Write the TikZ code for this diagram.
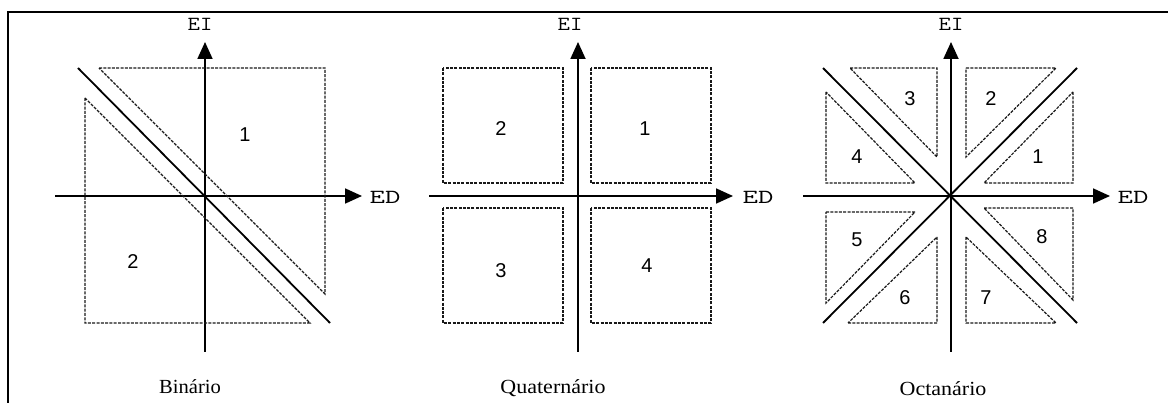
\documentclass[tikz,border=0pt]{standalone}
\usepackage{graphicx}
\usepackage{fontspec}
\setmainfont{Liberation Serif}
\newfontfamily\sansf{Liberation Sans}
\usetikzlibrary{arrows.meta}
\newcommand{\axtxt}[2]{\scalebox{#1}[1]{\ttfamily\fontsize{20}{20}\selectfont #2}}
\newcommand{\captxt}[2]{\scalebox{#1}[1]{\fontsize{20}{20}\selectfont #2}}
\begin{document}
\begin{tikzpicture}[x=1pt,y=-1pt,
  axis/.style={line width=1.8pt, -{Triangle[length=17pt,width=15pt]}},
  diag/.style={line width=1.8pt},
  region/.style={draw=black!90, line width=1.2pt, dash pattern=on 3pt off 1.3pt},
  num/.style={font=\sansf\fontsize{20}{20}\selectfont},
  axlabel/.style={inner sep=0pt},
  caption/.style={inner sep=0pt}]
\useasboundingbox (0,0) rectangle (1168,403);
\draw[line width=2pt] (7.5,403) -- (7.5,12) -- (1168,12);

% Binario
\begin{scope}[shift={(205,196)}]
  \coordinate (b-w) at (-150,0); \coordinate (b-e) at (157,0);
  \coordinate (b-s) at (0,156);  \coordinate (b-n) at (0,-154);
  \draw[axis] (b-w) -- (b-e);
  \draw[axis] (b-s) -- (b-n);
  \draw[diag] (-127,-128) -- (125,127);
  \draw[region] (-106,-128) -- (120,-128) -- (120,98) -- cycle;
  \draw[region] (-120,-98) -- (-120,127) -- (105,127) -- cycle;
  \node[num] (b1) at (40,-61) {1};
  \node[num] (b2) at (-72,66) {2};
  \node[axlabel] (bEI) at (-5,-172) {\axtxt{1.2}{EI}};
  \node[axlabel] (bED) at (180,1) {\axtxt{1.5}{ED}};
  \node[caption] (bcap) at (-15,191) {\captxt{1.03}{Binário}};
\end{scope}

% Quaternario
\begin{scope}[shift={(578,196)}]
  \coordinate (q-w) at (-149,0); \coordinate (q-e) at (155,0);
  \coordinate (q-s) at (0,156);  \coordinate (q-n) at (0,-154);
  \draw[axis] (q-w) -- (q-e);
  \draw[axis] (q-s) -- (q-n);
  \draw[region] (-135,-128) rectangle (-15,-13);
  \draw[region] (13,-128) rectangle (133,-13);
  \draw[region] (-135,12) rectangle (-15,127);
  \draw[region] (13,12) rectangle (133,127);
  \node[num] (q2) at (-77,-67) {2};
  \node[num] (q1) at (67,-67) {1};
  \node[num] (q3) at (-77,75) {3};
  \node[num] (q4) at (69,70) {4};
  \node[axlabel] (qEI) at (-8,-172) {\axtxt{1.2}{EI}};
  \node[axlabel] (qED) at (180,1) {\axtxt{1.5}{ED}};
  \node[caption] (qcap) at (-25,192) {\captxt{1.1}{Quaternário}};
\end{scope}

% Octanario
\begin{scope}[shift={(951,196)}]
  \coordinate (o-w) at (-148,0); \coordinate (o-e) at (159,0);
  \coordinate (o-s) at (0,156);  \coordinate (o-n) at (0,-154);
  \draw[axis] (o-w) -- (o-e);
  \draw[axis] (o-s) -- (o-n);
  \draw[diag] (-128,-128) -- (126,127);
  \draw[diag] (-128,127) -- (126,-128);
  \draw[region] (-101,-128) -- (-14,-128) -- (-14,-39) -- cycle;
  \draw[region] (15,-128) -- (105,-128) -- (15,-39) -- cycle;
  \draw[region] (122,-104) -- (122,-13) -- (33,-13) -- cycle;
  \draw[region] (-125,-104) -- (-125,-13) -- (-36,-13) -- cycle;
  \draw[region] (-125,16) -- (-36,16) -- (-125,107) -- cycle;
  \draw[region] (-103,127) -- (-14,127) -- (-14,41) -- cycle;
  \draw[region] (15,41) -- (15,127) -- (105,127) -- cycle;
  \draw[region] (33,12) -- (122,12) -- (122,104) -- cycle;
  \node[num] (o3) at (-41,-97) {3};
  \node[num] (o2) at (40,-97) {2};
  \node[num] (o4) at (-94,-39) {4};
  \node[num] (o1) at (87,-39) {1};
  \node[num] (o5) at (-94,44) {5};
  \node[num] (o8) at (91,41) {8};
  \node[num] (o6) at (-46,102) {6};
  \node[num] (o7) at (35,102) {7};
  \node[axlabel] (oEI) at (0,-172) {\axtxt{1.2}{EI}};
  \node[axlabel] (oED) at (182,1) {\axtxt{1.5}{ED}};
  \node[caption] (ocap) at (-8,193) {\captxt{1.1}{Octanário}};
\end{scope}
\end{tikzpicture}
\end{document}
